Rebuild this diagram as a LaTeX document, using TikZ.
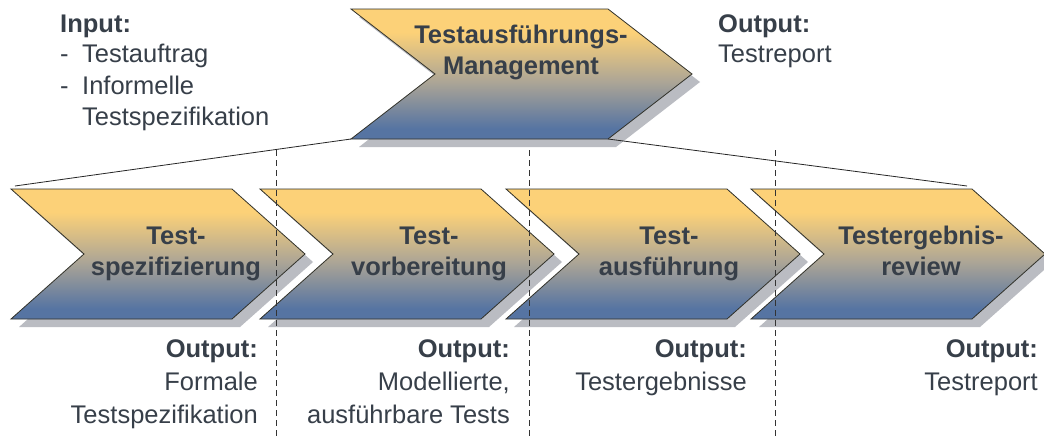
\documentclass[tikz,border=0pt]{standalone}
\usepackage{fontspec}
\setmainfont{Liberation Sans}
\definecolor{ctop}{RGB}{252,209,120}
\definecolor{cmid}{RGB}{172,165,150}
\definecolor{cbot}{RGB}{86,116,162}
\definecolor{shadowc}{RGB}{186,188,194}
\definecolor{txt}{RGB}{55,63,73}
\definecolor{edgec}{RGB}{50,50,42}
\pgfdeclareverticalshading{chevshade}{100bp}{color(0bp)=(cbot); color(25bp)=(cbot); color(29bp)=(cbot); color(47bp)=(cmid); color(66bp)=(ctop); color(75bp)=(ctop); color(100bp)=(ctop)}
\tikzset{
  pics/chevron/.style n args={3}{code={
    \fill[shadowc] (8,8) -- ++(#1,0) -- ++(#3,#2/2) -- ++(-#3,#2/2) -- ++(-#1,0) -- ++(#3,-#2/2) -- cycle;
    \coordinate (-tl) at (0,0);
    \coordinate (-tr) at (#1,0);
    \coordinate (-pt) at (#1+#3,#2/2);
    \coordinate (-br) at (#1,#2);
    \coordinate (-bl) at (0,#2);
    \coordinate (-nt) at (#3,#2/2);
    \path[shading=chevshade, draw=edgec, line width=0.8pt, line join=miter]
      (-tl) -- (-tr) -- (-pt) -- (-br) -- (-bl) -- (-nt) -- cycle;
  }},
  lbl/.style={font=\fontsize{25.5}{31}\selectfont\bfseries, text=txt, inner sep=0pt, anchor=base},
  txtn/.style={font=\fontsize{25.5}{31}\selectfont, text=txt, inner sep=0pt},
  txtb/.style={font=\fontsize{25.5}{31}\selectfont\bfseries, text=txt, inner sep=0pt},
  conn/.style={draw=black!85, line width=0.8pt},
  sep/.style={draw=black!80, line width=0.8pt, dash pattern=on 6pt off 4pt}
}
\begin{document}
\begin{tikzpicture}[x=1pt,y=-1pt]
\useasboundingbox[fill=white] (0,0) rectangle (1044,439);

% chevrons
\pic (top) at (351,9) {chevron={257}{130}{84}};
\pic (c1) at (11,189) {chevron={221}{130}{73}};
\pic (c2) at (260,189) {chevron={221}{130}{73}};
\pic (c3) at (506,189) {chevron={221}{130}{73}};
\pic (c4) at (751,189) {chevron={221}{130}{73}};

% connectors from top chevron
\coordinate (l1end) at (15,186);
\coordinate (l2end) at (967,186);
\draw[conn] (top-bl) -- (l1end);
\draw[conn] (top-br) -- (l2end);

% dashed separators
\coordinate (d1t) at (276,150); \coordinate (d1b) at (276,439);
\coordinate (d2t) at (529,150); \coordinate (d2b) at (529,439);
\coordinate (d3t) at (775,150); \coordinate (d3b) at (775,439);
\draw[sep] (d1t) -- (d1b);
\draw[sep] (d2t) -- (d2b);
\draw[sep] (d3t) -- (d3b);

% chevron labels
\node[lbl] (topA) at (521,43) {Testausführungs-};
\node[lbl] (topB) at (521,74) {Management};
\node[lbl] (c1A) at (176,244) {Test-};
\node[lbl] (c1B) at (176,275) {spezifizierung};
\node[lbl] (c2A) at (429,244) {Test-};
\node[lbl] (c2B) at (429,275) {vorbereitung};
\node[lbl] (c3A) at (669,244) {Test-};
\node[lbl] (c3B) at (669,275) {ausführung};
\node[lbl] (c4A) at (921,244) {Testergebnis-};
\node[lbl] (c4B) at (921,275) {review};

% input
\node[txtb, anchor=base west] (inH) at (60,32) {Input:};
\node[txtn, anchor=base west] (inD1) at (60,62) {-};
\node[txtn, anchor=base west] (in1) at (82,62) {Testauftrag};
\node[txtn, anchor=base west] (inD2) at (60,94) {-};
\node[txtn, anchor=base west] (in2) at (82,94) {Informelle};
\node[txtn, anchor=base west] (in3) at (82,125) {Testspezifikation};

% top output
\node[txtb, anchor=base west] (toH) at (718,32) {Output:};
\node[txtn, anchor=base west] (to1) at (718,62) {Testreport};

% bottom outputs
\node[txtb, anchor=base east] (o1H) at (258,357) {Output:};
\node[txtn, anchor=base east] (o1a) at (258,390) {Formale};
\node[txtn, anchor=base east] (o1b) at (258,423) {Testspezifikation};

\node[txtb, anchor=base east] (o2H) at (510,357) {Output:};
\node[txtn, anchor=base east] (o2a) at (510,390) {Modellierte,};
\node[txtn, anchor=base east] (o2b) at (510,423) {ausführbare Tests};

\node[txtb, anchor=base east] (o3H) at (747,357) {Output:};
\node[txtn, anchor=base east] (o3a) at (747,390) {Testergebnisse};

\node[txtb, anchor=base east] (o4H) at (1038,357) {Output:};
\node[txtn, anchor=base east] (o4a) at (1038,390) {Testreport};
\end{tikzpicture}
\end{document}
